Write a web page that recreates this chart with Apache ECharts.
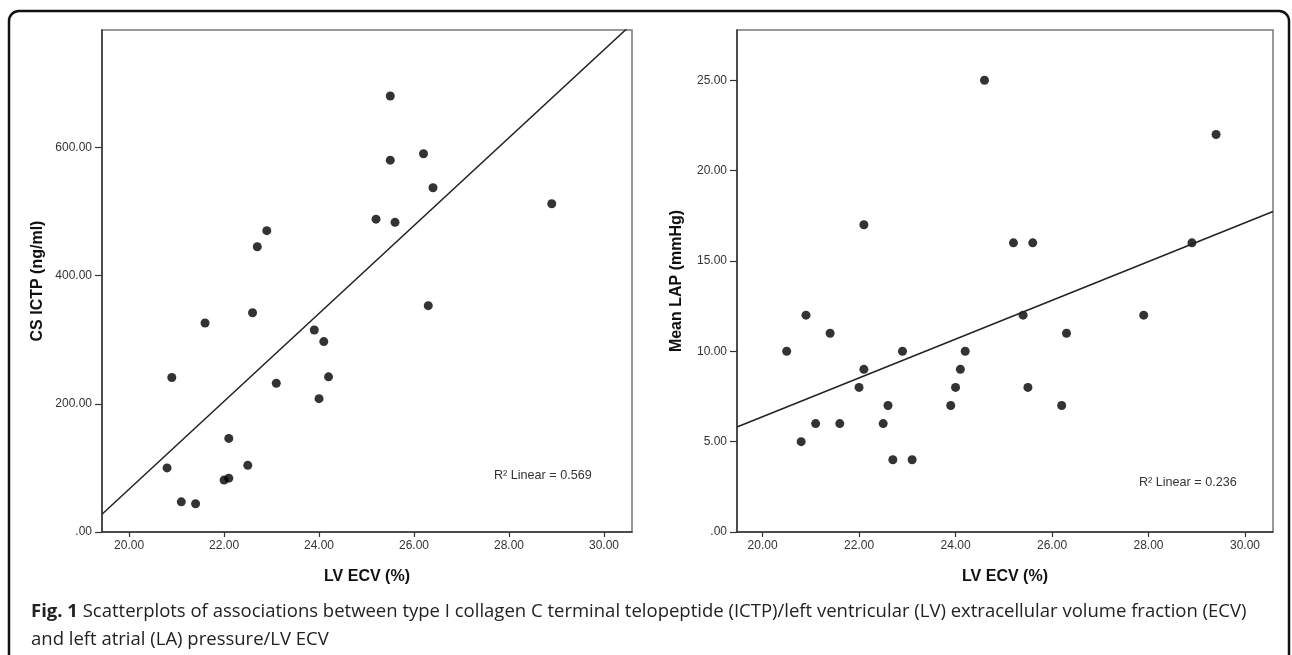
<!DOCTYPE html>
<html>
<head>
<meta charset="utf-8">
<script src="https://cdn.jsdelivr.net/npm/echarts@6/dist/echarts.min.js"></script>
<style>
html,body{margin:0;padding:0;background:#fff;}
#chart{width:1292px;height:655px;}
</style>
</head>
<body>
<div id="chart"></div>
<script>
// ---- data ----
var ecvIctp = [25.5, 25.5, 26.2, 26.4, 28.9, 25.2, 25.6, 22.9, 22.7, 26.3, 22.6, 21.6, 23.9,
               24.1, 20.9, 23.1, 24.2, 24.0, 22.1, 22.5, 20.8, 22.0, 22.1, 21.1, 21.4];
var ictp    = [680, 580, 590, 537, 512, 488, 483, 470, 445, 353, 342, 326, 315,
               297, 241, 232, 242, 208, 146, 104, 100, 81, 84, 47, 44];
var ecvLap  = [24.6, 29.4, 22.1, 25.2, 25.6, 28.9, 20.9, 25.4, 27.9, 21.4, 26.3, 20.5, 22.9, 24.2,
               22.1, 24.1, 22.0, 24.0, 25.5, 22.6, 23.9, 26.2, 21.1, 21.6, 22.5, 20.8, 22.7, 23.1];
var lap     = [25, 22, 17, 16, 16, 16, 12, 12, 12, 11, 11, 10, 10, 10,
               9, 9, 8, 8, 8, 7, 7, 7, 6, 6, 6, 5, 4, 4];
var xTicks    = [20, 22, 24, 26, 28, 30];
var ictpTicks = [0, 200, 400, 600];
var lapTicks  = [0, 5, 10, 15, 20, 25];
var r2Labels  = ['R\u00B2 Linear = 0.569', 'R\u00B2 Linear = 0.236'];
var xName = 'LV ECV (%)';
var yNames = ['CS ICTP (ng/ml)', 'Mean LAP (mmHg)'];
var captionBold = 'Fig. 1';
var captionLine1 = ' Scatterplots of associations between type I collagen C terminal telopeptide (ICTP)/left ventricular (LV) extracellular volume fraction (ECV)';
var captionLine2 = 'and left atrial (LA) pressure/LV ECV';

// axis ranges
var xRangeL = [19.43, 30.59], xRangeR = [19.47, 30.58];
var yMaxL = 783, yMaxR = 27.78;

function pairs(xs, ys){ return xs.map(function(x,i){ return [x, ys[i]]; }); }
function fitLine(xs, ys, range){
  var n = xs.length, mx = 0, my = 0;
  for (var i=0;i<n;i++){ mx += xs[i]; my += ys[i]; }
  mx /= n; my /= n;
  var sxy = 0, sxx = 0;
  for (var j=0;j<n;j++){ sxy += (xs[j]-mx)*(ys[j]-my); sxx += (xs[j]-mx)*(xs[j]-mx); }
  var b = sxy/sxx, a = my - b*mx;
  return [[range[0], a + b*range[0]], [range[1], a + b*range[1]]];
}
function fmt(v){ return v === 0 ? '.00' : v.toFixed(2); }

var FONT = '"Liberation Sans", Arial, sans-serif';
var CAP = '"Open Sans", sans-serif';
function xAxisDef(gi, range){
  return {
    type:'value', gridIndex:gi, min:range[0], max:range[1],
    name:xName, nameLocation:'middle', nameGap:37,
    nameTextStyle:{fontFamily:FONT, fontWeight:'bold', fontSize:16, color:'#111'},
    axisLine:{show:true, onZero:false, lineStyle:{color:'#333', width:1.5}},
    axisTick:{show:true, length:5, customValues:xTicks, lineStyle:{color:'#333', width:1.2}},
    axisLabel:{customValues:xTicks, formatter:fmt, margin:8, fontFamily:FONT, fontSize:12, color:'#333'},
    splitLine:{show:false}
  };
}
function yAxisDef(gi, max, ticks, name, gap){
  return {
    type:'value', gridIndex:gi, min:0, max:max,
    name:name, nameLocation:'middle', nameGap:gap, nameRotate:90,
    nameTextStyle:{fontFamily:FONT, fontWeight:'bold', fontSize:16, color:'#111'},
    axisLine:{show:true, onZero:false, lineStyle:{color:'#333', width:1.5}},
    axisTick:{show:true, length:7, customValues:ticks, lineStyle:{color:'#333', width:1.2}},
    axisLabel:{customValues:ticks, formatter:fmt, margin:10, fontFamily:FONT, fontSize:12, color:'#333'},
    splitLine:{show:false}
  };
}

var chart = echarts.init(document.getElementById('chart'), null, {renderer:'canvas'});
chart.setOption({
  backgroundColor:'#fff',
  animation:false,
  grid:[
    {left:102, top:30, width:530, height:502, show:true, borderColor:'#777', borderWidth:1.5, backgroundColor:'transparent'},
    {left:737, top:30, width:536, height:502, show:true, borderColor:'#777', borderWidth:1.5, backgroundColor:'transparent'}
  ],
  xAxis:[ xAxisDef(0, xRangeL), xAxisDef(1, xRangeR) ],
  yAxis:[ yAxisDef(0, yMaxL, ictpTicks, yNames[0], 56), yAxisDef(1, yMaxR, lapTicks, yNames[1], 52) ],
  series:[
    {type:'scatter', xAxisIndex:0, yAxisIndex:0, data:pairs(ecvIctp, ictp), symbolSize:9, itemStyle:{color:'#000'}, silent:true},
    {type:'line', xAxisIndex:0, yAxisIndex:0, data:fitLine(ecvIctp, ictp, xRangeL), showSymbol:false, symbol:'none', clip:true,
     lineStyle:{color:'#222', width:1.5}, silent:true},
    {type:'scatter', xAxisIndex:1, yAxisIndex:1, data:pairs(ecvLap, lap), symbolSize:9, itemStyle:{color:'#000'}, silent:true},
    {type:'line', xAxisIndex:1, yAxisIndex:1, data:fitLine(ecvLap, lap, xRangeR), showSymbol:false, symbol:'none', clip:true,
     lineStyle:{color:'#222', width:1.5}, silent:true}
  ],
  graphic:[
    {type:'rect', shape:{x:9, y:11, width:1280, height:720, r:10}, style:{fill:'none', stroke:'#111', lineWidth:2.5}, silent:true},
    {type:'text', x:494, y:476, style:{text:r2Labels[0], fontFamily:FONT, fontSize:12.6, fill:'#333', verticalAlign:'middle'}},
    {type:'text', x:1139, y:483, style:{text:r2Labels[1], fontFamily:FONT, fontSize:12.6, fill:'#333', verticalAlign:'middle'}},
    {type:'text', x:31, y:612, style:{
      text:'{b|'+captionBold+'}{n|'+captionLine1+'}', verticalAlign:'middle',
      rich:{
        b:{fontFamily:CAP, fontWeight:'bold', fontSize:18.5, fill:'#222'},
        n:{fontFamily:CAP, fontSize:18.5, fill:'#222'}
      }}},
    {type:'text', x:31, y:640, style:{text:captionLine2, fontFamily:CAP, fontSize:18.5, fill:'#222', verticalAlign:'middle'}}
  ]
});
</script>
</body>
</html>
